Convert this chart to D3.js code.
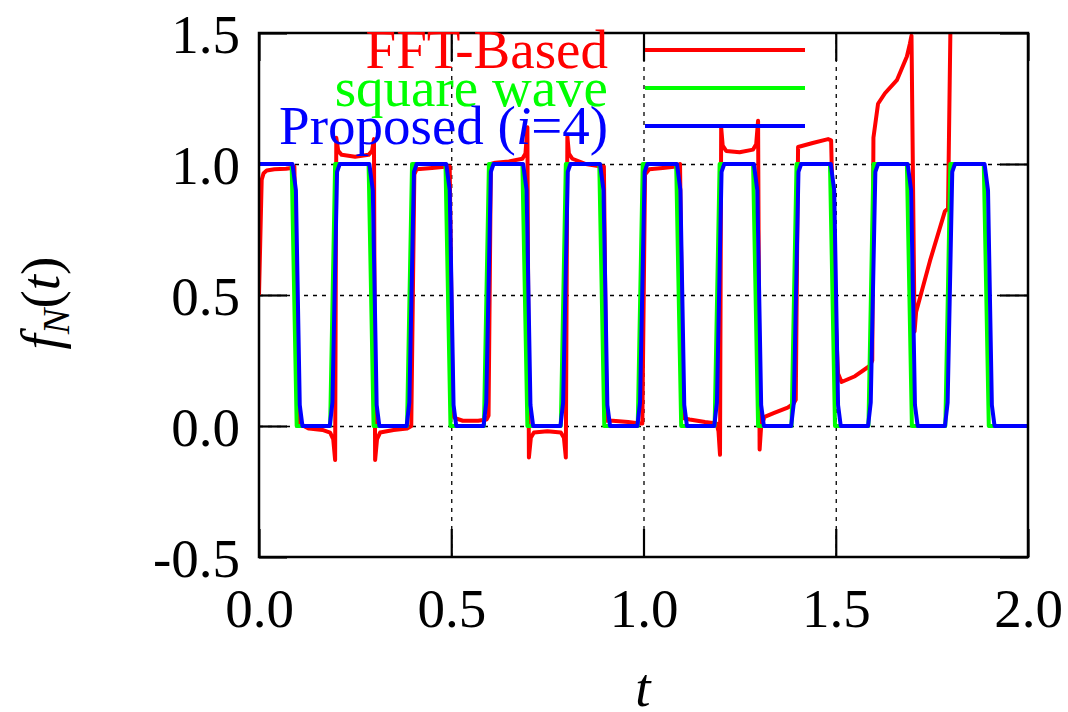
<!DOCTYPE html>
<html><head><meta charset="utf-8">
<script src="https://cdn.jsdelivr.net/npm/d3@7"></script>
<style>body{margin:0;background:#fff}svg{display:block}text{font-family:"Liberation Serif","Times New Roman",serif}</style>
</head><body><svg id="c" width="1068" height="712"></svg>
<script>
// ---- data ----
const xTicks = [0.0, 0.5, 1.0, 1.5, 2.0];
const yTicks = [-0.5, 0.0, 0.5, 1.0, 1.5];
const gridX = [0.5, 1.0, 1.5];
const gridY = [0.0, 0.5, 1.0];
const seriesNames = ["FFT-Based", "square wave", "Proposed"];
const seriesColors = ["#ff0000", "#00ff00", "#0000ff"];

// FFT-based reconstruction [t, f]
const fftPts = [[0,0.5],[0.007,0.94],[0.012,0.965],[0.02,0.975],[0.04,0.98],[0.07,0.982],[0.085,0.985],[0.092,0.99],[0.104,0.01],[0.13,-0.01],[0.165,-0.015],[0.185,-0.025],[0.193,-0.05],[0.198,-0.13],
[0.201,1.1],[0.206,1.05],[0.215,1.035],[0.25,1.028],[0.285,1.035],[0.294,1.05],[0.299,1.095],
[0.302,-0.13],[0.307,-0.05],[0.315,-0.025],[0.35,-0.015],[0.385,-0.01],[0.396,0.0],
[0.404,0.96],[0.41,0.98],[0.45,0.985],[0.49,0.99],[0.496,0.99],
[0.504,0.04],[0.51,0.03],[0.53,0.02],[0.57,0.02],[0.592,0.025],[0.597,0.04],
[0.603,1.0],[0.615,1.005],[0.65,1.01],[0.685,1.02],[0.693,1.04],[0.698,1.14],
[0.702,-0.12],[0.707,-0.045],[0.715,-0.025],[0.75,-0.02],[0.785,-0.025],[0.793,-0.045],[0.798,-0.12],
[0.802,1.105],[0.806,1.04],[0.815,1.02],[0.85,1.0],[0.89,0.99],[0.897,0.99],
[0.904,0.02],[0.92,0.02],[0.96,0.015],[0.99,0.01],[0.997,0.01],
[1.004,0.96],[1.015,0.98],[1.05,0.985],[1.085,0.99],[1.095,1.0],
[1.103,0.03],[1.12,0.025],[1.16,0.015],[1.19,0.01],[1.195,-0.02],[1.199,-0.11],
[1.202,1.14],[1.206,1.07],[1.215,1.05],[1.25,1.045],[1.285,1.055],[1.293,1.075],[1.298,1.165],
[1.302,-0.09],[1.306,0.0],[1.315,0.035],[1.34,0.05],[1.375,0.07],[1.39,0.085],[1.396,0.1],
[1.402,1.065],[1.44,1.08],[1.48,1.095],[1.488,1.09],
[1.497,0.5],[1.506,0.2],[1.515,0.168],[1.55,0.19],[1.589,0.23],[1.595,0.25],
[1.598,1.1],[1.61,1.23],[1.628,1.27],[1.659,1.32],[1.685,1.41],[1.693,1.46],[1.697,1.49],
[1.705,0.36],[1.709,0.435],[1.745,0.63],[1.784,0.82],[1.792,0.83],[1.799,1.6],[1.803,3.0]];

// square wave [t, f]
const squarePts = [[0,1],[0.085,1],[0.098,0],[0.185,0],[0.198,1],[0.285,1],[0.298,0],[0.385,0],[0.398,1],[0.485,1],[0.498,0],[0.585,0],[0.598,1],[0.685,1],[0.698,0],[0.785,0],[0.798,1],[0.885,1],[0.898,0],[0.985,0],[0.998,1],[1.085,1],[1.098,0],[1.185,0],[1.198,1],[1.285,1],[1.298,0],[1.385,0],[1.398,1],[1.485,1],[1.498,0],[1.585,0],[1.598,1],[1.685,1],[1.698,0],[1.785,0],[1.798,1],[1.885,1],[1.898,0],[2.0,0]];

// proposed (i=4) [t, f]
const proposedPts = [[0,1],
[0.087,1],[0.096,0.9],[0.106,0.08],[0.113,0],[0.184,0],[0.191,0.09],[0.203,0.97],[0.21,1],
[0.287,1],[0.296,0.9],[0.306,0.08],[0.313,0],[0.384,0],[0.391,0.09],[0.403,0.97],[0.41,1],
[0.487,1],[0.496,0.9],[0.506,0.08],[0.513,0],[0.584,0],[0.591,0.09],[0.603,0.97],[0.61,1],
[0.687,1],[0.696,0.9],[0.706,0.08],[0.713,0],[0.784,0],[0.791,0.09],[0.803,0.97],[0.81,1],
[0.887,1],[0.896,0.9],[0.906,0.08],[0.913,0],[0.984,0],[0.991,0.09],[1.003,0.97],[1.01,1],
[1.087,1],[1.096,0.9],[1.106,0.08],[1.113,0],[1.184,0],[1.191,0.09],[1.203,0.97],[1.21,1],
[1.287,1],[1.296,0.9],[1.306,0.08],[1.313,0],[1.384,0],[1.391,0.09],[1.403,0.97],[1.41,1],
[1.487,1],[1.496,0.9],[1.506,0.08],[1.513,0],[1.584,0],[1.591,0.09],[1.603,0.97],[1.61,1],
[1.687,1],[1.696,0.9],[1.706,0.08],[1.713,0],[1.784,0],[1.791,0.09],[1.803,0.97],[1.81,1],
[1.887,1],[1.896,0.9],[1.906,0.08],[1.913,0],[2.0,0]];

// ---- drawing ----
const svg = d3.select("#c");
const L = 259, R = 1028, T = 33, B = 557;
const x = d3.scaleLinear().domain([0, 2]).range([L, R]);
const y = d3.scaleLinear().domain([-0.5, 1.5]).range([B, T]);
const FS = 55;
const fmt = d => d.toFixed(1);

svg.append("defs").append("clipPath").attr("id", "clip")
  .append("rect").attr("x", L).attr("y", T).attr("width", R - L).attr("height", B - T);

// grid
const gx = svg.append("g").attr("transform", `translate(0,${B})`)
  .call(d3.axisBottom(x).tickValues(gridX).tickSize(-(B - T)).tickFormat(""));
gx.select(".domain").remove();
gx.selectAll("line").attr("stroke", "#000").attr("stroke-width", 1.3).attr("stroke-dasharray", "4,5");
const gy = svg.append("g").attr("transform", `translate(${L},0)`)
  .call(d3.axisLeft(y).tickValues(gridY).tickSize(-(R - L)).tickFormat(""));
gy.select(".domain").remove();
gy.selectAll("line").attr("stroke", "#000").attr("stroke-width", 1.3).attr("stroke-dasharray", "4,5");

// axes with inward ticks
const TK = 28;
function styleAxis(g) {
  g.select(".domain").remove();
  g.selectAll("line").attr("stroke", "#000").attr("stroke-width", 2.2);
  g.selectAll("text").attr("fill", "#000").style("font-size", FS + "px").style("font-family", '"Liberation Serif", serif');
}
const axB = svg.append("g").attr("transform", `translate(0,${B})`)
  .call(d3.axisBottom(x).tickValues(xTicks).tickSize(-TK).tickPadding(70).tickFormat(fmt));
styleAxis(axB);
axB.selectAll("text").attr("dy", "0");
const axT = svg.append("g").attr("transform", `translate(0,${T})`)
  .call(d3.axisTop(x).tickValues(xTicks).tickSize(-TK).tickFormat(""));
styleAxis(axT);
const axLft = svg.append("g").attr("transform", `translate(${L},0)`)
  .call(d3.axisLeft(y).tickValues(yTicks).tickSize(-TK).tickPadding(19).tickFormat(fmt));
styleAxis(axLft);
axLft.selectAll("text").attr("dy", "0.35em");
const axR = svg.append("g").attr("transform", `translate(${R},0)`)
  .call(d3.axisRight(y).tickValues(yTicks).tickSize(-TK).tickFormat(""));
styleAxis(axR);

// series
const line = d3.line().x(d => x(d[0])).y(d => y(d[1]));
const series = [fftPts, squarePts, proposedPts];
const plot = svg.append("g").attr("clip-path", "url(#clip)");
series.forEach((pts, i) => {
  plot.append("path").datum(pts).attr("d", line)
    .attr("fill", "none").attr("stroke", seriesColors[i]).attr("stroke-width", 4)
    .attr("stroke-linejoin", "round").attr("stroke-linecap", "butt");
});

// border
svg.append("rect").attr("x", L).attr("y", T).attr("width", R - L).attr("height", B - T)
  .attr("fill", "none").attr("stroke", "#000").attr("stroke-width", 2.5);

// legend
const legY = [50, 88, 126];
const lg = svg.append("g");
seriesNames.forEach((name, i) => {
  const t = lg.append("text").attr("x", 608).attr("y", legY[i]).attr("dy", "0.33em")
    .attr("text-anchor", "end").attr("fill", seriesColors[i]).style("font-size", FS + "px");
  if (i === 2) {
    t.append("tspan").text("Proposed (");
    t.append("tspan").attr("font-style", "italic").text("i");
    t.append("tspan").text("=4)");
  } else t.text(name);
  lg.append("line").attr("x1", 645).attr("x2", 805).attr("y1", legY[i]).attr("y2", legY[i])
    .attr("stroke", seriesColors[i]).attr("stroke-width", 4);
});

// axis titles
svg.append("text").attr("x", 643).attr("y", 706).attr("text-anchor", "middle")
  .attr("font-style", "italic").style("font-size", FS + "px").text("t");
const yl = svg.append("text").attr("transform", "translate(59,303) rotate(-90)")
  .attr("text-anchor", "middle").style("font-size", FS + "px");
yl.append("tspan").attr("font-style", "italic").text("f");
yl.append("tspan").attr("font-style", "italic").attr("font-size", "0.7em").attr("dy", "0.25em").text("N");
yl.append("tspan").attr("dy", "-0.175em").text("(");
yl.append("tspan").attr("font-style", "italic").text("t");
yl.append("tspan").text(")");
</script></body></html>
